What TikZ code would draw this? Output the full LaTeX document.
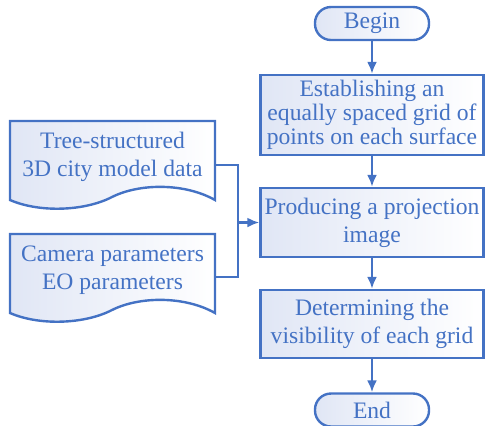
\documentclass[tikz,border=0pt]{standalone}
\usepackage{fontspec}
\setmainfont{Liberation Serif}
\usetikzlibrary{arrows.meta}
\definecolor{lineblue}{RGB}{68,114,196}
\definecolor{fillblue}{RGB}{224,230,245}
\tikzset{
  box/.style={draw=lineblue, line width=1.2pt, left color=fillblue, right color=white,
    text=lineblue, align=center, minimum width=111.5pt, inner sep=1pt},
  term/.style={box, rounded corners=8pt, minimum width=57pt, minimum height=16.5pt},
  doc/.style={draw=lineblue, line width=1.2pt, left color=fillblue, right color=white},
  txt/.style={text=lineblue, align=center, minimum width=102.5pt, minimum height=39.5pt, inner sep=0pt},
  flow/.style={draw=lineblue, line width=1.2pt, -{Latex[length=6pt,width=5pt]}},
  link/.style={draw=lineblue, line width=1.2pt}
}
\begin{document}
\begin{tikzpicture}[x=0.5pt, y=-0.5pt, font=\fontsize{11.8}{14}\selectfont]
  \useasboundingbox (0,0) rectangle (485,425);
  \node[term] (begin) at (372,23.5) {Begin};
  \node[box, minimum height=40pt, font=\fontsize{11.8}{12}\selectfont] (grid) at (372,115)
    {Establishing an\\equally spaced grid of\\points on each surface};
  \node[box, minimum height=34.5pt] (proj) at (372,222.5) {Producing a projection\\image};
  \node[box, minimum height=34pt] (vis) at (372,324) {Determining the\\visibility of each grid};
  \node[term] (end) at (372,410) {End};
  \draw[doc] (10,200) -- (10,121) -- (215,121) -- (215,200)
    .. controls (185,183) and (140,183) .. (112,197)
    .. controls (85,211) and (40,213) .. (10,200) -- cycle;
  \draw[doc] (10,313) -- (10,234) -- (215,234) -- (215,313)
    .. controls (185,296) and (140,296) .. (112,310)
    .. controls (85,324) and (40,326) .. (10,313) -- cycle;
  \node[txt] (tree) at (112.5,157) {Tree-structured\\3D city model data};
  \node[txt] (cam) at (112.5,270) {Camera parameters\\EO parameters};
  \coordinate (join) at (238,222.5);
  \draw[link] ([yshift=-4pt]tree.east) -| (join);
  \draw[link] ([yshift=-3.5pt]cam.east) -| (join);
  \draw[flow] (join) -- (proj.west);
  \draw[flow] (begin) -- (grid);
  \draw[flow] (grid) -- (proj);
  \draw[flow] (proj) -- (vis);
  \draw[flow] (vis) -- (end);
\end{tikzpicture}
\end{document}
